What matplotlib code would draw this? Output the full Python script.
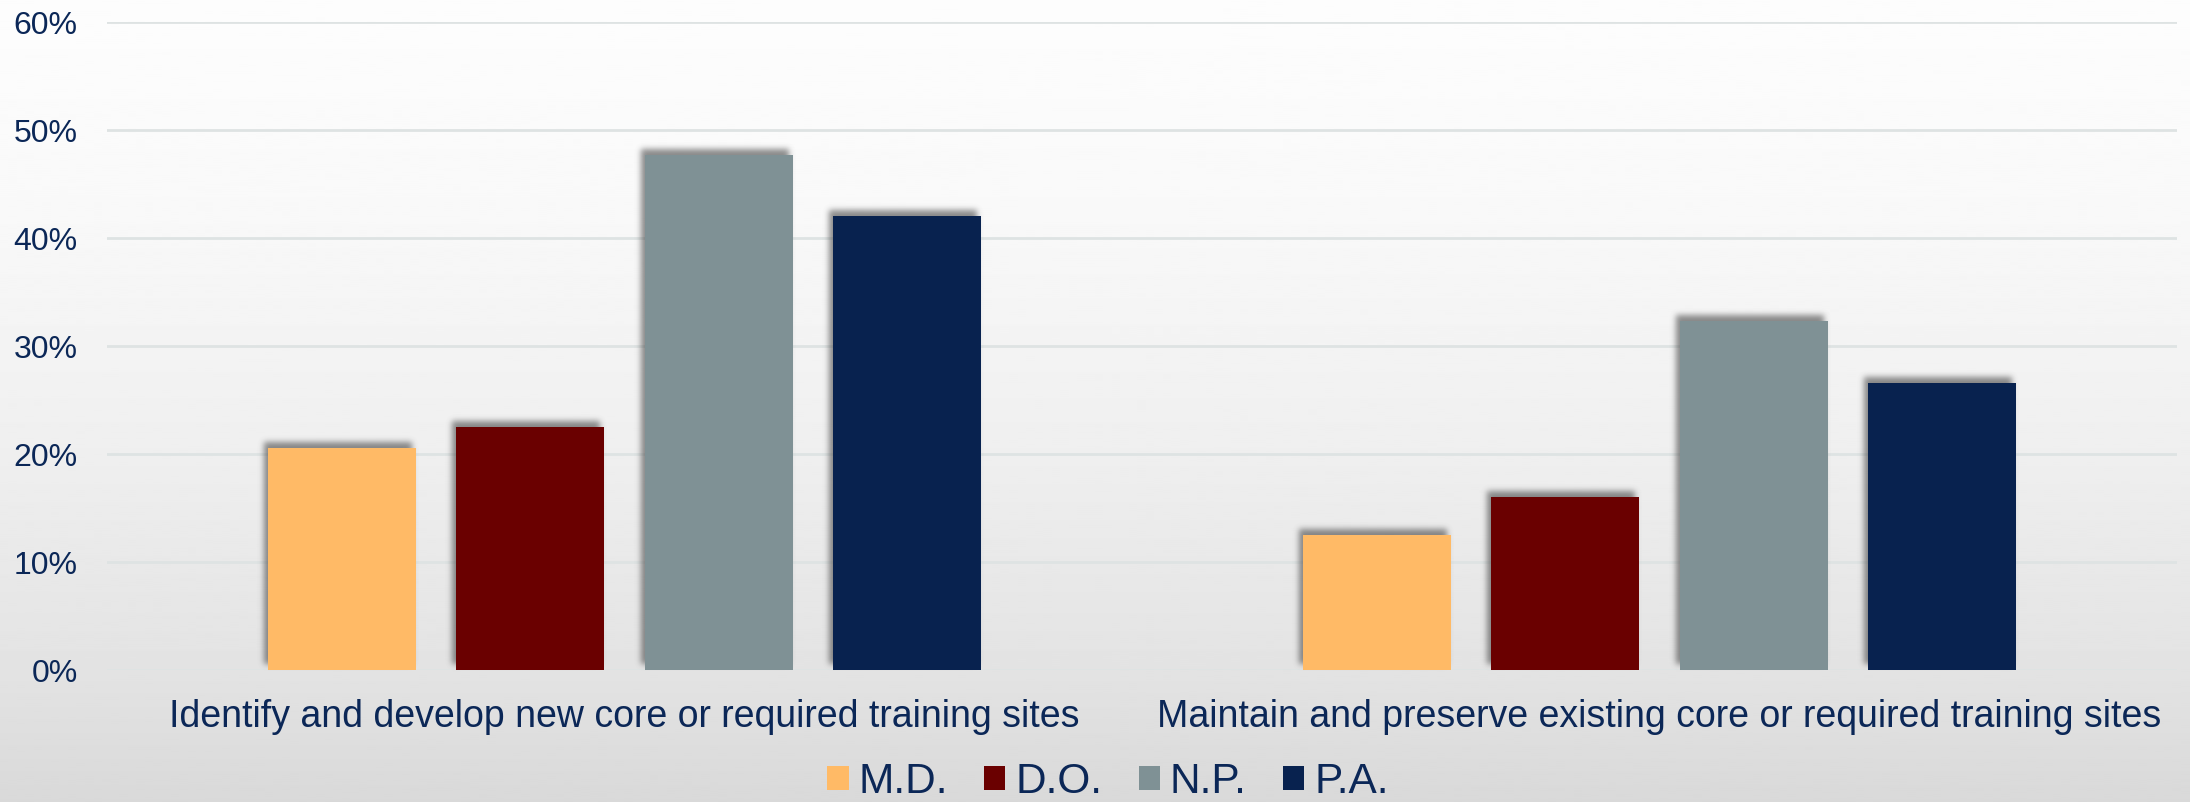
import numpy as np
import matplotlib
matplotlib.use("Agg")
import matplotlib.pyplot as plt
from matplotlib.patches import Patch

# survey shares by provider type
categories = ["Identify and develop new core or required training sites",
              "Maintain and preserve existing core or required training sites"]
series = ["M.D.", "D.O.", "N.P.", "P.A."]
md = [20.6, 12.5]
do = [22.5, 16.0]
np_ = [47.7, 32.3]
pa = [42.1, 26.6]
values = [md, do, np_, pa]
colors = ["#FFBA66", "#6A0000", "#7F9195", "#08224F"]
navy = "#0B2757"

plt.rcParams['font.family'] = ['Liberation Sans', 'DejaVu Sans']


def blur(a, sigma):
    r = int(3 * sigma)
    k = np.exp(-np.arange(-r, r + 1) ** 2 / (2.0 * sigma ** 2))
    k /= k.sum()
    out = np.zeros_like(a)
    for i, w in enumerate(k):
        out += w * np.roll(a, i - r, axis=0)
    a = out
    out = np.zeros_like(a)
    for i, w in enumerate(k):
        out += w * np.roll(a, i - r, axis=1)
    return out


def drop_shadow(im, dpi):
    pad = 16
    src = np.pad(im, ((pad, pad), (pad, pad), (0, 0)))
    alpha = src[..., 3]
    alpha = np.roll(alpha, -6, axis=0)   # up
    alpha = np.roll(alpha, -4, axis=1)   # left
    alpha = blur(alpha, 3.0)
    out = np.zeros_like(src)
    out[..., :3] = 0.25
    out[..., 3] = alpha * 0.6
    return out, -pad, -pad


fig = plt.figure(figsize=(21.9, 8.02), dpi=100)

# soft vertical gradient behind everything
bg = fig.add_axes([0, 0, 1, 1], zorder=-10)
ys = np.array([0, 200, 450, 670, 802]) / 802.0
vs = np.array([253, 249, 239, 227, 217]) / 255.0
grad = np.interp(np.linspace(0, 1, 400), ys, vs)[:, None]
bg.imshow(grad, aspect='auto', cmap='gray', vmin=0, vmax=1, extent=[0, 1, 0, 1])
bg.axis('off')

ax = fig.add_axes([107 / 2190, 1 - 670 / 802, 2070 / 2190, (670 - 22.3) / 802])
ax.patch.set_alpha(0)

x = np.arange(len(categories))
width = 0.143
step = 0.182
for i, (vals, c) in enumerate(zip(values, colors)):
    pos = x + (i - 1.5) * step
    sh = ax.bar(pos, [v / 100 for v in vals], width, color='k', zorder=2)
    for p in sh:
        p.set_agg_filter(drop_shadow)
    ax.bar(pos, [v / 100 for v in vals], width, color=c, zorder=3, label=series[i])

ax.set_xlim(-0.5, 1.5)
ax.set_ylim(0, 0.6)
ax.set_yticks(np.arange(0, 0.61, 0.1))
ax.set_yticklabels(["%d%%" % v for v in range(0, 61, 10)], fontsize=23, color=navy)
ax.set_xticks(x)
ax.set_xticklabels(categories, fontsize=27, color=navy)
ax.tick_params(axis='y', length=0, pad=21)
ax.tick_params(axis='x', length=0, pad=21)
ax.grid(axis='y', color='#DEE3E3', linewidth=2)
ax.set_axisbelow(True)
for s in ax.spines.values():
    s.set_visible(False)

handles = [Patch(facecolor=c, edgecolor='none') for c in colors]
fig.legend(handles, series, loc='center', bbox_to_anchor=(1108 / 2190, 1 - 782 / 802),
           ncol=4, frameon=False, fontsize=30.5, labelcolor=navy,
           handlelength=0.5, handleheight=0.53, handletextpad=0.24,
           columnspacing=0.85, borderpad=0, borderaxespad=0)

fig.savefig("out.png", dpi=100)
